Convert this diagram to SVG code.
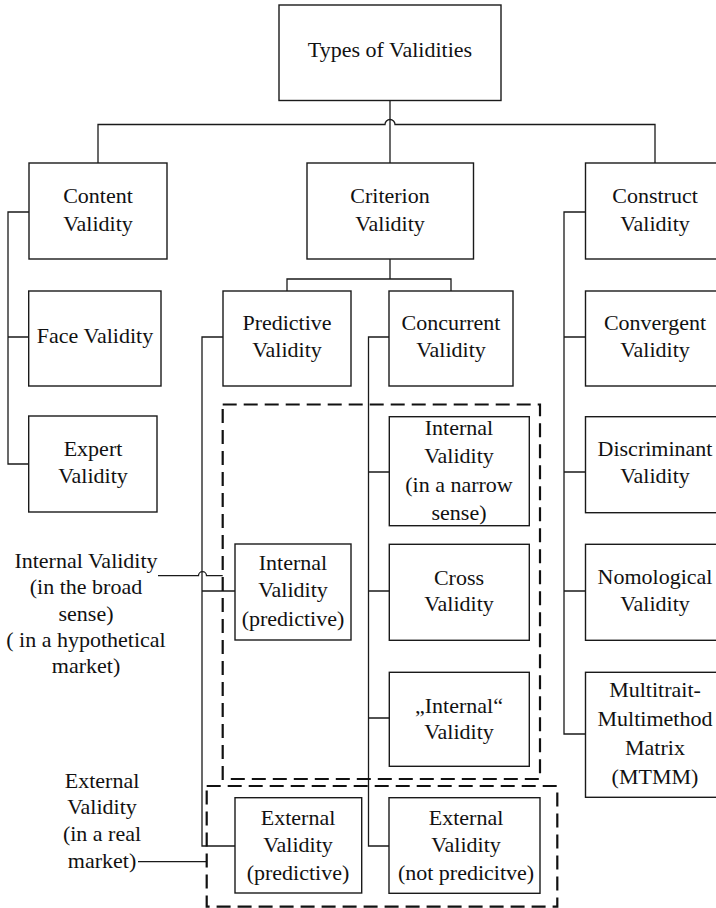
<svg xmlns="http://www.w3.org/2000/svg" width="716" height="908" viewBox="0 0 716 908">
<style>
.box{fill:#fff;stroke:#1a1a1a;stroke-width:1.4}
.t{font-family:Liberation Serif,Times New Roman,serif;font-size:22px;text-anchor:middle;fill:#111}
.c{fill:none;stroke:#1a1a1a;stroke-width:1.3}
.d{fill:none;stroke:#111;stroke-width:2.2;stroke-dasharray:14 7}
</style>
<rect width="716" height="908" fill="#fff"/>
<g id="connectors">
<path class="c" d="M390,100.5 V163"/>
<path class="c" d="M98,163 V124.5 H385 A5,5 0 0 1 395,124.5 H655 V163"/>
<path class="c" d="M390,259 V279 M287,291 V279 H451 V291"/>
<path class="c" d="M29,212 H8 V464 H28.7 M8,337 H28.7"/>
<path class="c" d="M585.5,212 H564 V734 H585.5 M564,337 H585.5 M564,472 H585.5 M564,591 H585.5"/>
<path class="c" d="M223,337 H202 V846 H235 M202,591 H235"/>
<path class="c" d="M389,337 H368.5 V846 H389 M368.5,472 H389.3 M368.5,591 H389.3 M368.5,718 H389.3"/>
<path class="c" d="M158,575.7 H198.5 A4,4 0 0 1 206.5,575.7 H222.7"/>
<path class="c" d="M138,861.7 H206.7"/>
</g>
<g id="dashed-internal"><rect class="d" x="222.7" y="404.5" width="317.3" height="374.5"/></g>
<g id="dashed-external"><rect class="d" x="206.7" y="786" width="350.6" height="120.7"/></g>
<g font-family="Liberation Serif, serif">
<g id="types"><rect class="box" x="279" y="5" width="222" height="95.5"/><text class="t" x="390" y="57">Types of Validities</text></g>
<g id="content"><rect class="box" x="29" y="163" width="138" height="96"/><text class="t" x="98" y="203">Content</text><text class="t" x="98" y="231">Validity</text></g>
<g id="criterion"><rect class="box" x="307" y="163" width="166.5" height="96"/><text class="t" x="390" y="203">Criterion</text><text class="t" x="390" y="231">Validity</text></g>
<g id="construct"><rect class="box" x="585.5" y="163" width="140" height="96"/><text class="t" x="655" y="203">Construct</text><text class="t" x="655" y="231">Validity</text></g>
<g id="face"><rect class="box" x="28.7" y="291" width="132.3" height="95"/><text class="t" x="95" y="343">Face Validity</text></g>
<g id="expert"><rect class="box" x="28.7" y="416" width="128.3" height="96"/><text class="t" x="93" y="456">Expert</text><text class="t" x="93" y="483">Validity</text></g>
<g id="predictive"><rect class="box" x="223" y="291" width="128" height="95"/><text class="t" x="287" y="330">Predictive</text><text class="t" x="287" y="357">Validity</text></g>
<g id="concurrent"><rect class="box" x="389" y="291" width="124" height="95"/><text class="t" x="451" y="330">Concurrent</text><text class="t" x="451" y="357">Validity</text></g>
<g id="convergent"><rect class="box" x="585.5" y="291" width="140" height="95"/><text class="t" x="655" y="330">Convergent</text><text class="t" x="655" y="357">Validity</text></g>
<g id="internal-predictive"><rect class="box" x="235" y="544" width="116" height="96"/><text class="t" x="293" y="570">Internal</text><text class="t" x="293" y="597">Validity</text><text class="t" x="293" y="626">(predictive)</text></g>
<g id="internal-narrow"><rect class="box" x="389.3" y="416.7" width="140" height="109"/><text class="t" x="459" y="435">Internal</text><text class="t" x="459" y="463">Validity</text><text class="t" x="459" y="492">(in a narrow</text><text class="t" x="459" y="520">sense)</text></g>
<g id="cross"><rect class="box" x="389.3" y="544.3" width="140" height="96"/><text class="t" x="459" y="585">Cross</text><text class="t" x="459" y="611">Validity</text></g>
<g id="internal-quoted"><rect class="box" x="389.3" y="672.3" width="140" height="94"/><text class="t" x="459" y="713">„Internal“</text><text class="t" x="459" y="739">Validity</text></g>
<g id="discriminant"><rect class="box" x="585.5" y="416.7" width="140" height="96"/><text class="t" x="655" y="456">Discriminant</text><text class="t" x="655" y="483">Validity</text></g>
<g id="nomological"><rect class="box" x="585.5" y="544.3" width="140" height="96"/><text class="t" x="655" y="584">Nomological</text><text class="t" x="655" y="611">Validity</text></g>
<g id="mtmm"><rect class="box" x="585.5" y="672.3" width="140" height="125"/><text class="t" x="655" y="697">Multitrait-</text><text class="t" x="655" y="726">Multimethod</text><text class="t" x="655" y="755">Matrix</text><text class="t" x="655" y="784">(MTMM)</text></g>
<g id="external-predictive"><rect class="box" x="235" y="797.7" width="126.7" height="95.3"/><text class="t" x="298" y="825">External</text><text class="t" x="298" y="852">Validity</text><text class="t" x="298" y="880">(predictive)</text></g>
<g id="external-not-predictive"><rect class="box" x="389" y="797.7" width="151" height="95.6"/><text class="t" x="466" y="825">External</text><text class="t" x="466" y="852">Validity</text><text class="t" x="466" y="880">(not predicitve)</text></g>
<g id="label-internal"><text class="t" x="86" y="568">Internal Validity</text><text class="t" x="86" y="594">(in the broad</text><text class="t" x="86" y="621">sense)</text><text class="t" x="86" y="647">( in a hypothetical</text><text class="t" x="86" y="673">market)</text></g>
<g id="label-external"><text class="t" x="102" y="788">External</text><text class="t" x="102" y="814">Validity</text><text class="t" x="102" y="841">(in a real</text><text class="t" x="102" y="868">market)</text></g>
</g>
</svg>
